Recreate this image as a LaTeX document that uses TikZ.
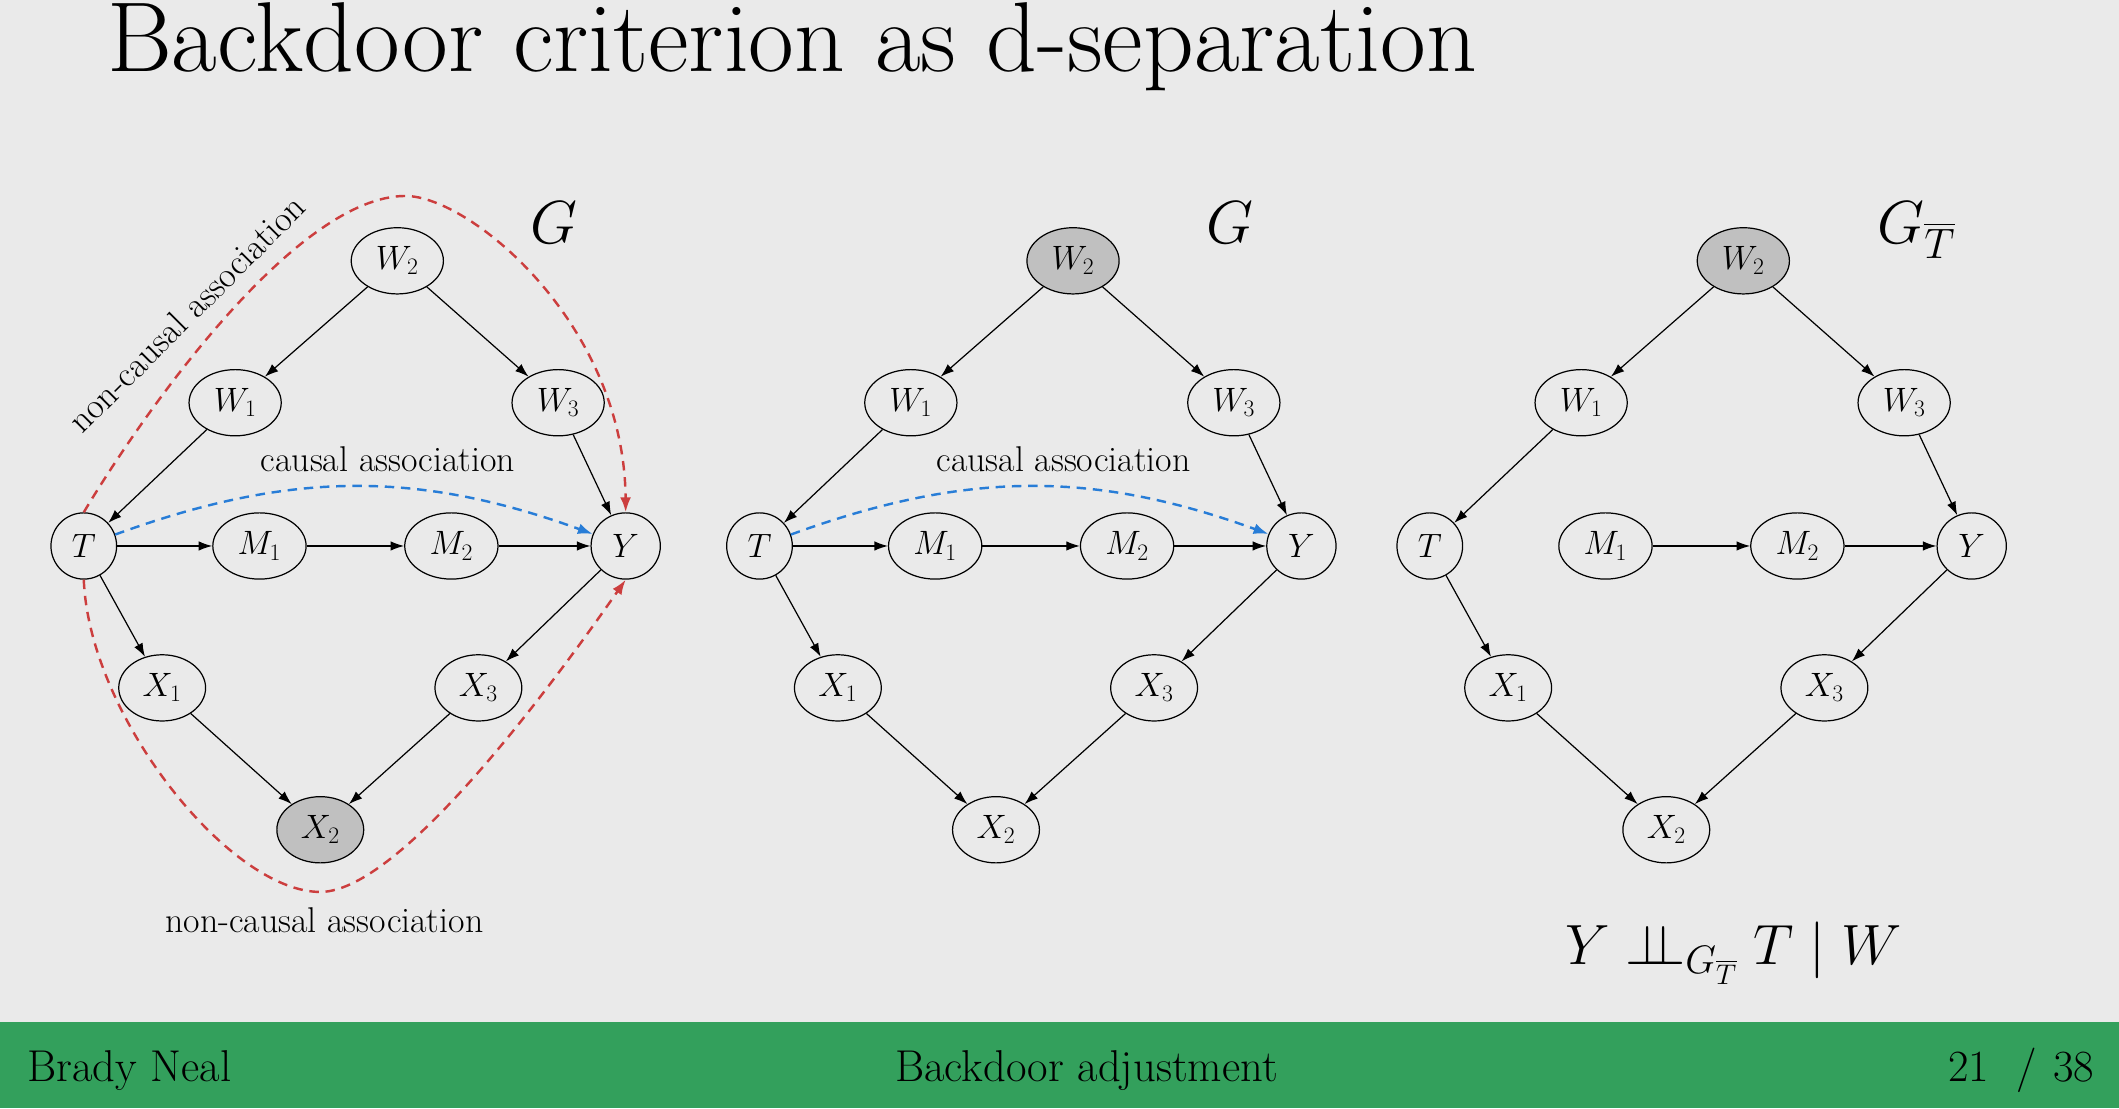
\RequirePackage{fix-cm}
\documentclass[tikz,border=0pt]{standalone}
\usepackage{fontspec}
\usepackage{amsmath}
\usetikzlibrary{shapes.geometric,arrows.meta}
\definecolor{bg}{RGB}{234,234,234}
\definecolor{foot}{RGB}{51,160,92}
\definecolor{obsgrey}{RGB}{192,192,192}
\definecolor{ncred}{RGB}{204,62,62}
\definecolor{cblue}{RGB}{40,125,215}
\begin{document}
\begin{tikzpicture}[x=1pt,y=-1pt,
  var/.style={ellipse, draw=black, line width=0.9pt, inner xsep=8.3pt, inner ysep=2pt,
    minimum width=48pt, minimum height=49pt, font=\fontsize{25}{30}\selectfont},
  obsvar/.style={var, fill=obsgrey},
  arr/.style={-{Latex[length=10pt,width=7pt]}, line width=0.9pt},
  ncpath/.style={draw=ncred, line width=1.8pt, dash pattern=on 7pt off 5pt,
    -{Latex[length=11pt,width=8pt]}},
  cpath/.style={draw=cblue, line width=1.8pt, dash pattern=on 7pt off 5pt,
    -{Latex[length=11pt,width=8pt]}},
  lbl/.style={font=\fontsize{26.5}{31}\selectfont, inner sep=0pt},
  glbl/.style={font=\fontsize{45}{50}\selectfont, inner sep=0pt},
  foottxt/.style={font=\fontsize{33}{38}\selectfont, inner sep=0pt}
]
\useasboundingbox (0,0) rectangle (1568,820);
\fill[bg] (0,0) rectangle (1568,820);
\fill[foot] (0,756) rectangle (1568,820);

% title
\node[anchor=base west, inner sep=0pt, font=\fontsize{73.5}{80}\selectfont] (title) at (79,53) {Backdoor criterion as d-separation};

% ---------- panel 1 ----------
\node[var] (aW2) at (294,193) {$W_2$};
\node[var] (aW1) at (174,298) {$W_1$};
\node[var] (aW3) at (413,298) {$W_3$};
\node[var] (aT) at (62,404) {$T$};
\node[var] (aM1) at (192,404) {$M_1$};
\node[var] (aM2) at (334,404) {$M_2$};
\node[var] (aY) at (463,404) {$Y$};
\node[var] (aX1) at (120,509) {$X_1$};
\node[var] (aX3) at (354,509) {$X_3$};
\node[obsvar] (aX2) at (237,614) {$X_2$};
\node[glbl, anchor=base] (aG) at (410,180) {$G$};
\draw[arr] (aW2) -- (aW1);
\draw[arr] (aW2) -- (aW3);
\draw[arr] (aW1) -- (aT);
\draw[arr] (aW3) -- (aY);
\draw[arr] (aT) -- (aM1);
\draw[arr] (aM1) -- (aM2);
\draw[arr] (aM2) -- (aY);
\draw[arr] (aT) -- (aX1);
\draw[arr] (aY) -- (aX3);
\draw[arr] (aX1) -- (aX2);
\draw[arr] (aX3) -- (aX2);
\draw[ncpath] (aT.north) .. controls (108,302) and (220,145) .. (300,145)
  .. controls (348,145) and (462,240) .. (aY.north);
\draw[ncpath] (aT.south) .. controls (66,530) and (170,660) .. (237,660)
  .. controls (300,660) and (423,486) .. (aY.south);
\draw[cpath] (aT) to[bend left=20] (aY);
\node[lbl, anchor=base] (aca) at (287,349) {causal association};
\node[lbl, anchor=base] (anca) at (240,690) {non-causal association};
\node[lbl, rotate=45] (anct) at (138,232) {non-causal association};

% ---------- panel 2 ----------
\begin{scope}[xshift=500pt]
\node[obsvar] (bW2) at (294,193) {$W_2$};
\node[var] (bW1) at (174,298) {$W_1$};
\node[var] (bW3) at (413,298) {$W_3$};
\node[var] (bT) at (62,404) {$T$};
\node[var] (bM1) at (192,404) {$M_1$};
\node[var] (bM2) at (334,404) {$M_2$};
\node[var] (bY) at (463,404) {$Y$};
\node[var] (bX1) at (120,509) {$X_1$};
\node[var] (bX3) at (354,509) {$X_3$};
\node[var] (bX2) at (237,614) {$X_2$};
\node[glbl, anchor=base] (bG) at (410,180) {$G$};
\draw[arr] (bW2) -- (bW1);
\draw[arr] (bW2) -- (bW3);
\draw[arr] (bW1) -- (bT);
\draw[arr] (bW3) -- (bY);
\draw[arr] (bT) -- (bM1);
\draw[arr] (bM1) -- (bM2);
\draw[arr] (bM2) -- (bY);
\draw[arr] (bT) -- (bX1);
\draw[arr] (bY) -- (bX3);
\draw[arr] (bX1) -- (bX2);
\draw[arr] (bX3) -- (bX2);
\draw[cpath] (bT) to[bend left=20] (bY);
\node[lbl, anchor=base] (bca) at (287,349) {causal association};
\end{scope}

% ---------- panel 3 ----------
\begin{scope}[xshift=996pt]
\node[obsvar] (cW2) at (294,193) {$W_2$};
\node[var] (cW1) at (174,298) {$W_1$};
\node[var] (cW3) at (413,298) {$W_3$};
\node[var] (cT) at (62,404) {$T$};
\node[var] (cM1) at (192,404) {$M_1$};
\node[var] (cM2) at (334,404) {$M_2$};
\node[var] (cY) at (463,404) {$Y$};
\node[var] (cX1) at (120,509) {$X_1$};
\node[var] (cX3) at (354,509) {$X_3$};
\node[var] (cX2) at (237,614) {$X_2$};
\node[glbl, anchor=base west] (cG) at (393,180) {$G_{\overline{T}}$};
\draw[arr] (cW2) -- (cW1);
\draw[arr] (cW2) -- (cW3);
\draw[arr] (cW1) -- (cT);
\draw[arr] (cW3) -- (cY);
\draw[arr] (cM1) -- (cM2);
\draw[arr] (cM2) -- (cY);
\draw[arr] (cT) -- (cX1);
\draw[arr] (cY) -- (cX3);
\draw[arr] (cX1) -- (cX2);
\draw[arr] (cX3) -- (cX2);
\end{scope}
\node[anchor=base west, inner sep=0pt, font=\fontsize{42}{48}\selectfont] (fml) at (1158,714)
  {$Y \perp\!\!\!\perp_{G_{\overline{T}}} T \mid W$};

% footer
\node[foottxt, anchor=base west] (fa) at (20,800) {Brady Neal};
\node[foottxt, anchor=base] (fb) at (804,800) {Backdoor adjustment};
\node[foottxt, anchor=base east] (fn1) at (1472,800) {21};
\node[foottxt, anchor=base] (fsl) at (1500,800) {/};
\node[foottxt, anchor=base west] (fn2) at (1519,800) {38};
\end{tikzpicture}
\end{document}
